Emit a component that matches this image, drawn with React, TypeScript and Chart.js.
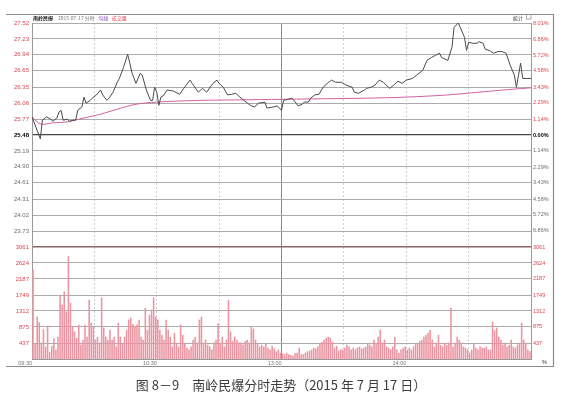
import React, { useEffect, useRef } from "react";
import { Chart, registerables } from "chart.js";

Chart.register(...registerables);

// ---- data ----
const priceMinutes = [0, 4, 5, 7, 9, 10, 12, 13, 14, 15, 17, 18, 20, 21, 22, 24, 25, 26, 28, 29, 31, 33, 34, 36, 37, 39, 41, 42, 44, 46, 47, 48, 50, 51, 52, 53, 55, 57, 58, 59, 60, 61, 62, 63, 65, 68, 71, 73, 76, 77, 80, 82, 84, 87, 89, 90, 92, 94, 96, 98, 100, 102, 105, 107, 109, 112, 113, 116, 118, 120, 121, 123, 125, 126, 128, 130, 131, 133, 134, 136, 138, 140, 142, 144, 146, 149, 151, 154, 155, 157, 160, 161, 163, 165, 167, 169, 172, 174, 176, 178, 180, 183, 185, 188, 190, 192, 194, 196, 197, 200, 202, 203, 205, 206, 208, 209, 210, 212, 214, 215, 217, 218, 220, 222, 224, 226, 228, 230, 232, 233, 234, 235, 236, 238, 240];
const priceValues = [25.81, 25.41, 25.75, 25.81, 25.77, 25.73, 25.79, 25.9, 25.93, 25.75, 25.77, 25.73, 25.75, 25.75, 25.93, 25.99, 26.17, 26.06, 26.11, 26.15, 26.21, 26.3, 26.21, 26.11, 26.15, 26.26, 26.44, 26.51, 26.71, 26.95, 26.8, 26.62, 26.42, 26.51, 26.6, 26.57, 26.3, 26.11, 26.11, 26.35, 26.26, 26.02, 26.17, 26.19, 26.3, 26.28, 26.22, 26.33, 26.48, 26.42, 26.26, 26.33, 26.26, 26.42, 26.48, 26.42, 26.35, 26.21, 26.22, 26.24, 26.17, 26.11, 26.02, 25.99, 26.06, 26.08, 25.97, 25.99, 26.01, 25.93, 26.11, 26.13, 26.15, 26.11, 26.01, 26.04, 26.08, 26.08, 26.15, 26.21, 26.22, 26.35, 26.42, 26.48, 26.44, 26.44, 26.39, 26.35, 26.26, 26.24, 26.3, 26.33, 26.35, 26.39, 26.48, 26.44, 26.33, 26.39, 26.46, 26.42, 26.48, 26.51, 26.57, 26.66, 26.84, 26.89, 26.93, 26.97, 26.89, 26.84, 27.08, 27.44, 27.52, 27.44, 27.26, 27.02, 27.17, 27.15, 27.15, 27.18, 27.15, 27.04, 27.02, 26.97, 27.0, 27.0, 26.97, 26.75, 26.57, 26.35, 26.57, 26.79, 26.51, 26.51, 26.51];

const avgMinutes = [0, 4, 10, 17, 25, 33, 41, 50, 60, 80, 100, 120, 140, 160, 180, 200, 215, 230, 240];
const avgValues = [25.81, 25.68, 25.7, 25.72, 25.79, 25.86, 25.95, 26.04, 26.08, 26.11, 26.12, 26.13, 26.14, 26.15, 26.17, 26.21, 26.26, 26.31, 26.34];

const volumeValues = [
  2430, 400, 1150, 1000, 437, 800, 330, 900, 180, 350,
  560, 250, 600, 1750, 1480, 1840, 1290, 2800, 1530, 880,
  750, 560, 930, 380, 520, 930, 600, 1610, 980, 880,
  520, 600, 440, 1670, 850, 600, 520, 790, 520, 600,
  330, 980, 600, 400, 600, 790, 1070, 1120, 950, 880,
  930, 1066, 600, 520, 1390, 790, 1200, 1340, 1670, 1150,
  1070, 790, 650, 520, 1066, 790, 600, 330, 700, 437,
  330, 930, 650, 437, 300, 250, 330, 520, 600, 437,
  1066, 1150, 440, 520, 380, 330, 250, 440, 520, 960,
  437, 600, 330, 520, 1610, 740, 480, 600, 520, 440,
  440, 380, 480, 520, 440, 875, 820, 520, 400, 330,
  380, 330, 400, 300, 250, 350, 280, 200, 250, 164,
  140, 120, 164, 120, 100, 80, 150, 164, 300, 120,
  120, 164, 200, 220, 250, 300, 280, 330, 400, 465,
  520, 574, 600, 574, 465, 300, 350, 220, 260, 250,
  300, 383, 330, 250, 300, 250, 300, 330, 280, 300,
  330, 437, 380, 330, 520, 437, 600, 793, 437, 520,
  330, 300, 250, 330, 600, 250, 164, 250, 300, 330,
  250, 300, 250, 330, 400, 437, 480, 520, 600, 650,
  710, 793, 520, 330, 437, 650, 380, 330, 437, 383,
  437, 1394, 330, 437, 600, 520, 437, 330, 300, 250,
  164, 250, 437, 300, 250, 330, 300, 300, 330, 250,
  250, 1011, 775, 850, 600, 520, 383, 437, 330, 383,
  520, 330, 300, 383, 437, 984, 520, 437, 250, 200,
];

const priceTickValues = [27.52, 27.23, 26.94, 26.65, 26.35, 26.06, 25.77, 25.48, 25.19, 24.9, 24.61, 24.31, 24.02, 23.73];
const priceTickLabels = ["27.52", "27.23", "26.94", "26.65", "26.35", "26.06", "25.77", "25.48", "25.19", "24.90", "24.61", "24.31", "24.02", "23.73"];
const pctTickValues = [8.01, 6.86, 5.72, 4.58, 3.43, 2.29, 1.14, 0, -1.14, -2.29, -3.43, -4.58, -5.72, -6.86];
const pctTickLabels = ["8.01%", "6.86%", "5.72%", "4.58%", "3.43%", "2.29%", "1.14%", "0.00%", "1.14%", "2.29%", "3.43%", "4.58%", "5.72%", "6.86%"];
const volTickValues = [3061, 2624, 2187, 1749, 1312, 875, 437];
const volTickLabels = ["3061", "2624", "2187", "1749", "1312", "875", "437"];
const timeTickValues = [0, 30, 60, 90, 120, 150, 180, 210, 240];
const timeTickLabels = ["09:30", "", "10:30", "", "13:00", "", "14:00", "", ""];

const headerParts = [
  { text: "南岭民爆", color: "#111", bold: true },
  { text: "2015-07-17 分时", color: "#777", bold: false },
  { text: "均线", color: "#8a4fc0", bold: false },
  { text: "成交量", color: "#e0444f", bold: false },
];

const PRICE_MIN = 23.44;
const PRICE_MAX = 27.52;
const PCT_MAX = 8.01;
const VOL_MAX = 3061;

const titleText = "图 8－9　南岭民爆分时走势（2015 年 7 月 17 日）";

const RED = "#e0444f";
const GRAY_LBL = "#667066";
const FONT = "Liberation Sans";
const CJK = '"Noto Sans CJK SC"';

const decorPlugin = {
  id: "decor",
  afterDraw(chart: any) {
    const ctx = chart.ctx;
    ctx.save();
    // frame
    ctx.strokeStyle = "#8c8c8c";
    ctx.lineWidth = 1.2;
    ctx.beginPath();
    ctx.moveTo(6, 14.5);
    ctx.lineTo(553.5, 14.5);
    ctx.lineTo(553.5, 366.5);
    ctx.lineTo(6, 366.5);
    ctx.stroke();
    // header
    ctx.textBaseline = "middle";
    ctx.textAlign = "left";
    let hx = 33;
    headerParts.forEach((p, i) => {
      ctx.font = `${p.bold ? "bold " : ""}5px ${CJK}`;
      ctx.fillStyle = p.color;
      ctx.fillText(p.text, hx, 18.5);
      hx += ctx.measureText(p.text).width + (i === 0 ? 5 : 3.5);
    });
    ctx.font = `5px ${CJK}`;
    ctx.fillStyle = "#333";
    ctx.fillText("统计", 513, 18);
    ctx.strokeStyle = "#999";
    ctx.lineWidth = 0.8;
    ctx.strokeRect(526.5, 14.5, 4.5, 4.5);
    ctx.font = `5.5px ${FONT}`;
    ctx.fillStyle = "#333";
    ctx.fillText("%", 542, 362);
    // caption
    ctx.font = `13px ${CJK}`;
    ctx.fillStyle = "#3e3e3e";
    ctx.textAlign = "center";
    ctx.fillText(titleText, 281, 385);
    ctx.restore();
  },
};

export default function App() {
  const ref = useRef<HTMLCanvasElement | null>(null);

  useEffect(() => {
    if (!ref.current) return;
    const priceData = priceMinutes.map((m, i) => ({ x: m, y: priceValues[i] }));
    const avgData = avgMinutes.map((m, i) => ({ x: m, y: avgValues[i] }));
    const volData = volumeValues.map((v, i) => ({ x: i + 0.5, y: v }));

    const chart = new Chart(ref.current, {
      type: "bar",
      data: {
        datasets: [
          {
            type: "line",
            data: priceData,
            xAxisID: "x",
            yAxisID: "yPrice",
            borderColor: "#4a4a4a",
            borderWidth: 1,
            pointRadius: 0,
            tension: 0,
            order: 1,
          } as any,
          {
            type: "line",
            data: avgData,
            xAxisID: "x",
            yAxisID: "yPrice",
            borderColor: "#d2609c",
            borderWidth: 1,
            pointRadius: 0,
            tension: 0.3,
            order: 2,
          } as any,
          {
            type: "bar",
            data: volData,
            xAxisID: "x",
            yAxisID: "yVol",
            backgroundColor: "#eb95a2",
            barThickness: 0.9,
            order: 3,
          } as any,
        ],
      },
      options: {
        animation: false,
        responsive: false,
        events: [],
        layout: { padding: { left: 0, right: 22, top: 23, bottom: 36 } },
        plugins: { legend: { display: false }, tooltip: { enabled: false }, title: { display: false } },
        scales: {
          x: {
            type: "linear",
            min: 0,
            max: 240,
            offset: false,
            afterBuildTicks: (s: any) => {
              s.ticks = timeTickValues.map((v) => ({ value: v }));
            },
            afterFit: (s: any) => {
              s.height = 10;
            },
            ticks: {
              autoSkip: false,
              maxRotation: 0,
              align: "end",
              padding: 1,
              color: "#777",
              font: { size: 5.5, family: FONT },
              callback: (_v: any, i: number) => timeTickLabels[i],
            },
            grid: {
              drawTicks: false,
              offset: false,
              color: (c: any) => (c.tick && c.tick.value === 120 ? "#8a8a8a" : "#cfcfcf"),
              lineWidth: 1,
            },
            border: {
              display: true,
              color: "#999",
              dash: (c: any) => (c.tick && c.tick.value !== 120 ? [2, 2] : []),
            },
          },
          yPrice: {
            type: "linear",
            position: "left",
            stack: "L",
            stackWeight: 2,
            weight: 2,
            min: PRICE_MIN,
            max: PRICE_MAX,
            afterBuildTicks: (s: any) => {
              s.ticks = priceTickValues.map((v) => ({ value: v }));
            },
            afterFit: (s: any) => {
              s.width = 32;
            },
            ticks: {
              autoSkip: false,
              padding: 3,
              color: (c: any) => (c.index < 7 ? RED : c.index === 7 ? "#000" : GRAY_LBL),
              font: (c: any) => ({ size: 6, family: FONT, weight: c.index === 7 ? "bold" : "normal" }),
              callback: (_v: any, i: number) => priceTickLabels[i],
            },
            grid: {
              drawTicks: false,
              color: (c: any) => (c.index === 7 ? "#444" : "#ababab"),
              lineWidth: (c: any) => (c.index === 7 ? 1.3 : 1),
            },
            border: { display: true, color: "#999" },
          },
          yVol: {
            type: "linear",
            position: "left",
            stack: "L",
            stackWeight: 1,
            weight: 1,
            min: 0,
            max: VOL_MAX,
            afterBuildTicks: (s: any) => {
              s.ticks = volTickValues.map((v) => ({ value: v }));
            },
            afterFit: (s: any) => {
              s.width = 32;
            },
            ticks: {
              autoSkip: false,
              padding: 3,
              color: RED,
              font: { size: 6, family: FONT },
              callback: (_v: any, i: number) => volTickLabels[i],
            },
            grid: {
              drawTicks: false,
              color: (c: any) => (c.index === 0 ? "#8a6666" : "#ababab"),
              lineWidth: (c: any) => (c.index === 0 ? 1.4 : 1),
            },
            border: { display: true, color: "#999" },
          },
          yPct: {
            type: "linear",
            position: "right",
            stack: "R",
            stackWeight: 2,
            weight: 1,
            display: true,
            min: -PCT_MAX,
            max: PCT_MAX,
            afterBuildTicks: (s: any) => {
              s.ticks = pctTickValues.map((v) => ({ value: v }));
            },
            afterFit: (s: any) => {
              s.width = 22;
            },
            ticks: {
              autoSkip: false,
              padding: 2,
              color: (c: any) => (c.index < 7 ? RED : c.index === 7 ? "#000" : GRAY_LBL),
              font: (c: any) => ({ size: 5.5, family: FONT, weight: c.index === 7 ? "bold" : "normal" }),
              callback: (_v: any, i: number) => pctTickLabels[i],
            },
            grid: { drawOnChartArea: false, drawTicks: false },
            border: { display: true, color: "#999" },
          },
          yVolR: {
            type: "linear",
            position: "right",
            stack: "R",
            stackWeight: 1,
            weight: 2,
            display: true,
            min: 0,
            max: VOL_MAX,
            afterBuildTicks: (s: any) => {
              s.ticks = volTickValues.map((v) => ({ value: v }));
            },
            afterFit: (s: any) => {
              s.width = 22;
            },
            ticks: {
              autoSkip: false,
              padding: 2,
              color: RED,
              font: { size: 5.5, family: FONT },
              callback: (_v: any, i: number) => volTickLabels[i],
            },
            grid: { drawOnChartArea: false, drawTicks: false },
            border: { display: true, color: "#999" },
          },
        } as any,
      },
      plugins: [decorPlugin],
    });
    return () => chart.destroy();
  }, []);

  return (
    <div style={{ position: "absolute", left: 0, top: 0, width: 575, height: 405, background: "#fff" }}>
      <canvas ref={ref} width={575} height={405} style={{ display: "block", width: 575, height: 405 }} />
    </div>
  );
}
